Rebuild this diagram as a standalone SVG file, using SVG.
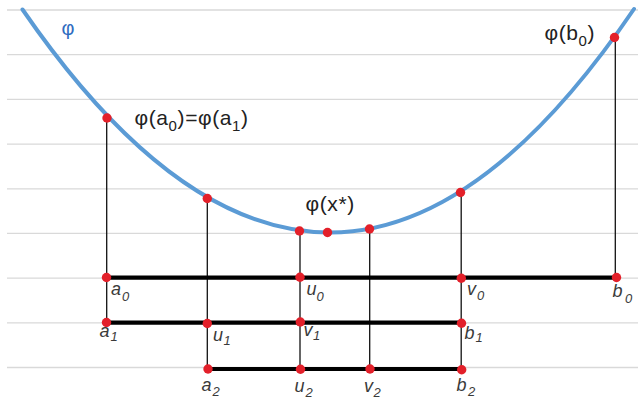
<svg xmlns="http://www.w3.org/2000/svg" width="638" height="402" viewBox="0 0 638 402">
<style>
.grid line{stroke:#d9d9d9;stroke-width:1.3}
.curve{fill:none;stroke:#5b9bd5;stroke-width:4;stroke-linecap:round}
.thin{stroke:#111;stroke-width:1.3}
.thick{stroke:#000;stroke-width:4.2}
.dot{fill:#e3202a}
.lbl{font-family:"Liberation Sans",Arial,sans-serif;font-style:italic;font-size:18px;fill:#3a3a3a}
.lbl .s{font-size:13px}
.fn{font-family:"Liberation Sans",Arial,sans-serif;font-size:21px;letter-spacing:0.6px;fill:#222}
.fn .s{font-size:15px}
.phi{font-family:"Liberation Sans",Arial,sans-serif;font-size:20px;fill:#2f6cc0}
</style>
<rect width="638" height="402" fill="#fff"/>
<g class="grid">
<line x1="7" y1="10" x2="638" y2="10"/>
<line x1="7" y1="54.7" x2="638" y2="54.7"/>
<line x1="7" y1="99.4" x2="638" y2="99.4"/>
<line x1="7" y1="144.1" x2="638" y2="144.1"/>
<line x1="7" y1="188.8" x2="638" y2="188.8"/>
<line x1="7" y1="233.4" x2="638" y2="233.4"/>
<line x1="7" y1="278.1" x2="638" y2="278.1"/>
<line x1="7" y1="322.8" x2="638" y2="322.8"/>
<line x1="7" y1="367.5" x2="638" y2="367.5"/>
</g>
<g id="curve">
<path class="curve" d="M22.5,9.5 Q176,232.5 330,232.5 Q482,232.5 634,9"/>
<text class="phi" x="61.5" y="35">φ</text>
</g>
<g id="connectors">
<line class="thin" x1="106.7" y1="118" x2="106.7" y2="322.5"/>
<line class="thin" x1="207.3" y1="198.5" x2="207.3" y2="369"/>
<line class="thin" x1="300" y1="231" x2="300" y2="369"/>
<line class="thin" x1="369.7" y1="229" x2="369.7" y2="369"/>
<line class="thin" x1="461.2" y1="192.5" x2="461.2" y2="369.5"/>
<line class="thin" x1="615.3" y1="37.5" x2="615.3" y2="277.5"/>
<line class="thick" x1="106.5" y1="277.6" x2="616" y2="277.6"/>
<line class="thick" x1="106.5" y1="322.6" x2="461.5" y2="322.6"/>
<line class="thick" x1="208" y1="369" x2="461.5" y2="369"/>
</g>
<g id="phi-a0">
<circle class="dot" cx="107" cy="118" r="4.7"/>
<text class="fn" x="134.5" y="124.5">φ(a<tspan class="s" dy="6">0</tspan><tspan dy="-6">)=φ(a</tspan><tspan class="s" dy="6">1</tspan><tspan dy="-6">)</tspan></text>
</g>
<g id="phi-u1"><circle class="dot" cx="207.3" cy="198.5" r="4.7"/></g>
<g id="phi-u0"><circle class="dot" cx="299.5" cy="231" r="4.7"/></g>
<g id="phi-xstar">
<circle class="dot" cx="327.5" cy="232.5" r="4.7"/>
<text class="fn" x="305.5" y="211">φ(x*)</text>
</g>
<g id="phi-v2"><circle class="dot" cx="369.5" cy="229" r="4.7"/></g>
<g id="phi-v0"><circle class="dot" cx="460.5" cy="192.5" r="4.7"/></g>
<g id="phi-b0">
<circle class="dot" cx="614.5" cy="37.5" r="4.7"/>
<text class="fn" x="544.5" y="39.5">φ(b<tspan class="s" dy="6">0</tspan><tspan dy="-6">)</tspan></text>
</g>
<g id="a0"><circle class="dot" cx="106.5" cy="277.5" r="4.7"/><text class="lbl" x="111" y="295">a<tspan class="s" x="122" y="300.5">0</tspan></text></g>
<g id="u0"><circle class="dot" cx="300" cy="277.3" r="4.7"/><text class="lbl" x="306.5" y="295">u<tspan class="s" x="316.5" y="300.5">0</tspan></text></g>
<g id="v0"><circle class="dot" cx="461.3" cy="278.2" r="4.7"/><text class="lbl" x="467" y="294.5">v<tspan class="s" x="477" y="300">0</tspan></text></g>
<g id="b0"><circle class="dot" cx="616.5" cy="277.5" r="4.7"/><text class="lbl" x="612.5" y="297">b<tspan class="s" x="625" y="302.5">0</tspan></text></g>
<g id="a1"><circle class="dot" cx="106.5" cy="322.5" r="4.7"/><text class="lbl" x="99.5" y="337">a<tspan class="s" x="110.5" y="340.5">1</tspan></text></g>
<g id="u1"><circle class="dot" cx="207.3" cy="323.5" r="4.7"/><text class="lbl" x="213" y="340.5">u<tspan class="s" x="223.5" y="345">1</tspan></text></g>
<g id="v1"><circle class="dot" cx="300.3" cy="322" r="4.7"/><text class="lbl" x="303.5" y="335.5">v<tspan class="s" x="313" y="340">1</tspan></text></g>
<g id="b1"><circle class="dot" cx="461.5" cy="323.3" r="4.7"/><text class="lbl" x="464.5" y="339">b<tspan class="s" x="475.5" y="342">1</tspan></text></g>
<g id="a2"><circle class="dot" cx="208" cy="369" r="4.7"/><text class="lbl" x="201.5" y="391">a<tspan class="s" x="212.5" y="396">2</tspan></text></g>
<g id="u2"><circle class="dot" cx="300.5" cy="369.3" r="4.7"/><text class="lbl" x="294.5" y="392">u<tspan class="s" x="305.5" y="397">2</tspan></text></g>
<g id="v2"><circle class="dot" cx="370" cy="369" r="4.7"/><text class="lbl" x="364" y="391.5">v<tspan class="s" x="373.5" y="397">2</tspan></text></g>
<g id="b2"><circle class="dot" cx="461.7" cy="369.7" r="4.7"/><text class="lbl" x="456.5" y="390.5">b<tspan class="s" x="468" y="396">2</tspan></text></g>
</svg>
